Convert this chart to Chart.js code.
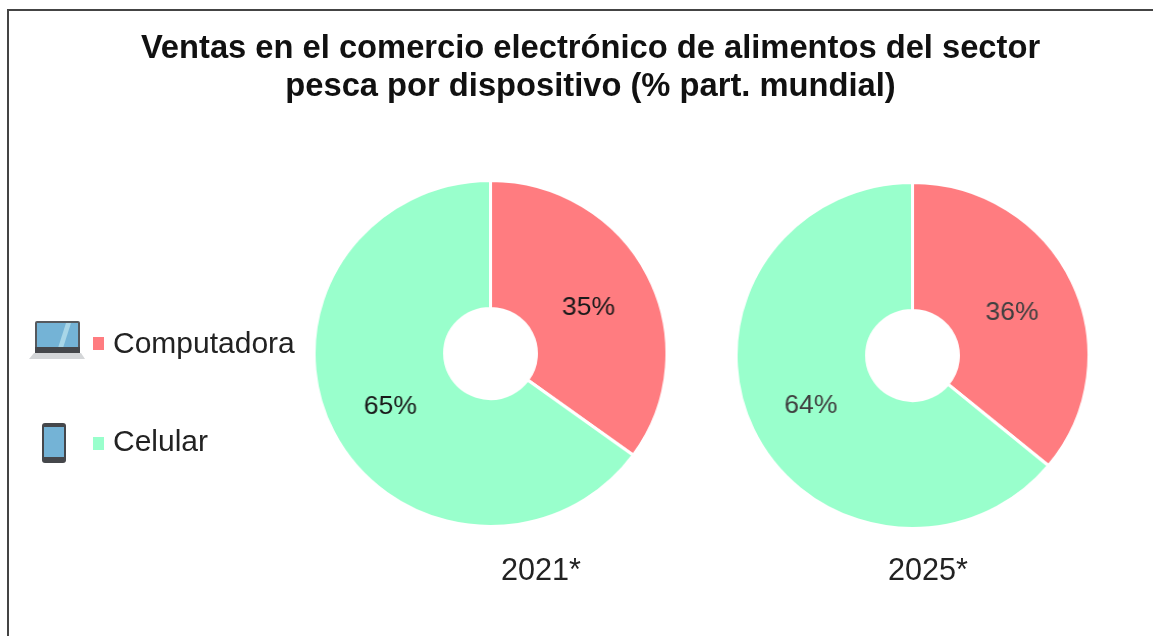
<!DOCTYPE html>
<html>
<head>
<meta charset="utf-8">
<script src="https://cdn.jsdelivr.net/npm/chart.js@4"></script>
<style>
html, body { margin: 0; padding: 0; background: #fff; }
body { width: 1153px; height: 636px; overflow: hidden; position: relative; font-family: "Liberation Sans", Arial, sans-serif; color: #222; }
#page { position: absolute; left: 0; top: 0; width: 1153px; height: 636px; filter: blur(0.4px); }
#frame { position: absolute; left: 7px; top: 9px; width: 1160px; height: 640px; border: 2px solid #444; box-sizing: border-box; }
#title { position: absolute; left: 0; top: 28px; width: 1181px; text-align: center; font-size: 32.7px; line-height: 38px; font-weight: bold; color: #111; white-space: nowrap; }
.pie { position: absolute; transform: scaleX(1.02); transform-origin: center; }
.year { position: absolute; font-size: 30.6px; line-height: 32px; width: 120px; text-align: center; }
.legend-text { position: absolute; font-size: 30px; line-height: 32px; white-space: nowrap; }
.legend-box { position: absolute; width: 11px; height: 13px; }
svg { position: absolute; }
</style>
</head>
<body>
<div id="page">
<div id="frame"></div>
<div id="title">Ventas en el comercio electrónico de alimentos del sector<br>pesca por dispositivo (% part. mundial)</div>

<!-- laptop -->
<svg style="left:28px;top:318px" width="58" height="44" viewBox="0 0 58 44">
  <rect x="7" y="3" width="45" height="30" rx="2" fill="#55595e"/>
  <rect x="9" y="5" width="41" height="25" fill="#74b3d6"/>
  <polygon points="30,30 38,5 43,5 35,30" fill="#a8d6e8"/>
  <rect x="7" y="29" width="45" height="6" fill="#45474b"/>
  <polygon points="6,35 53,35 57,41 1,41" fill="#d4d6d8"/>
</svg>
<!-- phone -->
<svg style="left:41px;top:422px" width="27" height="42" viewBox="0 0 27 42">
  <rect x="1" y="1" width="24" height="40" rx="3" fill="#45474b"/>
  <rect x="3" y="5" width="20" height="30" fill="#74b3d6"/>
</svg>

<div class="legend-box" id="box0" style="left:93px;top:337px"></div>
<div class="legend-text" id="leg0" style="left:113px;top:327px"></div>
<div class="legend-box" id="box1" style="left:93px;top:437px"></div>
<div class="legend-text" id="leg1" style="left:113px;top:425px"></div>

<canvas class="pie" id="pie2021" width="349" height="349" style="left:316px;top:179px"></canvas>
<canvas class="pie" id="pie2025" width="349" height="349" style="left:738px;top:181px"></canvas>

<div class="year" id="year0" style="left:481px;top:553px"></div>
<div class="year" id="year1" style="left:868px;top:553px"></div>
</div>

<script>
const categories = ['Computadora', 'Celular'];
const years = ['2021*', '2025*'];
const values2021 = [35, 65];
const values2025 = [36, 64];
const colors = ['#FF7C80', '#99FFCC'];

// percent labels in the middle of each slice
const sliceLabels = {
    id: 'sliceLabels',
    afterDatasetsDraw(chart, args, opts) {
        const ctx = chart.ctx;
        const values = chart.data.datasets[0].data;
        ctx.save();
        ctx.font = '26px "Liberation Sans", Arial, sans-serif';
        ctx.fillStyle = opts.color;
        ctx.textAlign = 'center';
        ctx.textBaseline = 'middle';
        chart.getDatasetMeta(0).data.forEach(function (arc, i) {
            const p = arc.getCenterPoint();
            ctx.fillText(values[i] + '%', p.x - 1, p.y + 4);
        });
        ctx.restore();
    }
};

function makePie(id, values, labelColor) {
    return new Chart(document.getElementById(id), {
        type: 'doughnut',
        data: {
            labels: categories,
            datasets: [{
                data: values,
                backgroundColor: colors,
                borderColor: '#fff',
                borderWidth: 3
            }]
        },
        options: {
            responsive: false,
            animation: false,
            cutout: 45,
            layout: { padding: 0 },
            plugins: {
                legend: { display: false },
                tooltip: { enabled: false },
                sliceLabels: { color: labelColor }
            }
        },
        plugins: [sliceLabels]
    });
}

makePie('pie2021', values2021, '#1a1a1a');
makePie('pie2025', values2025, '#404040');

categories.forEach(function (c, i) {
    document.getElementById('leg' + i).textContent = c;
    document.getElementById('box' + i).style.background = colors[i];
});
years.forEach(function (y, i) {
    document.getElementById('year' + i).textContent = y;
});
</script>
</body>
</html>
